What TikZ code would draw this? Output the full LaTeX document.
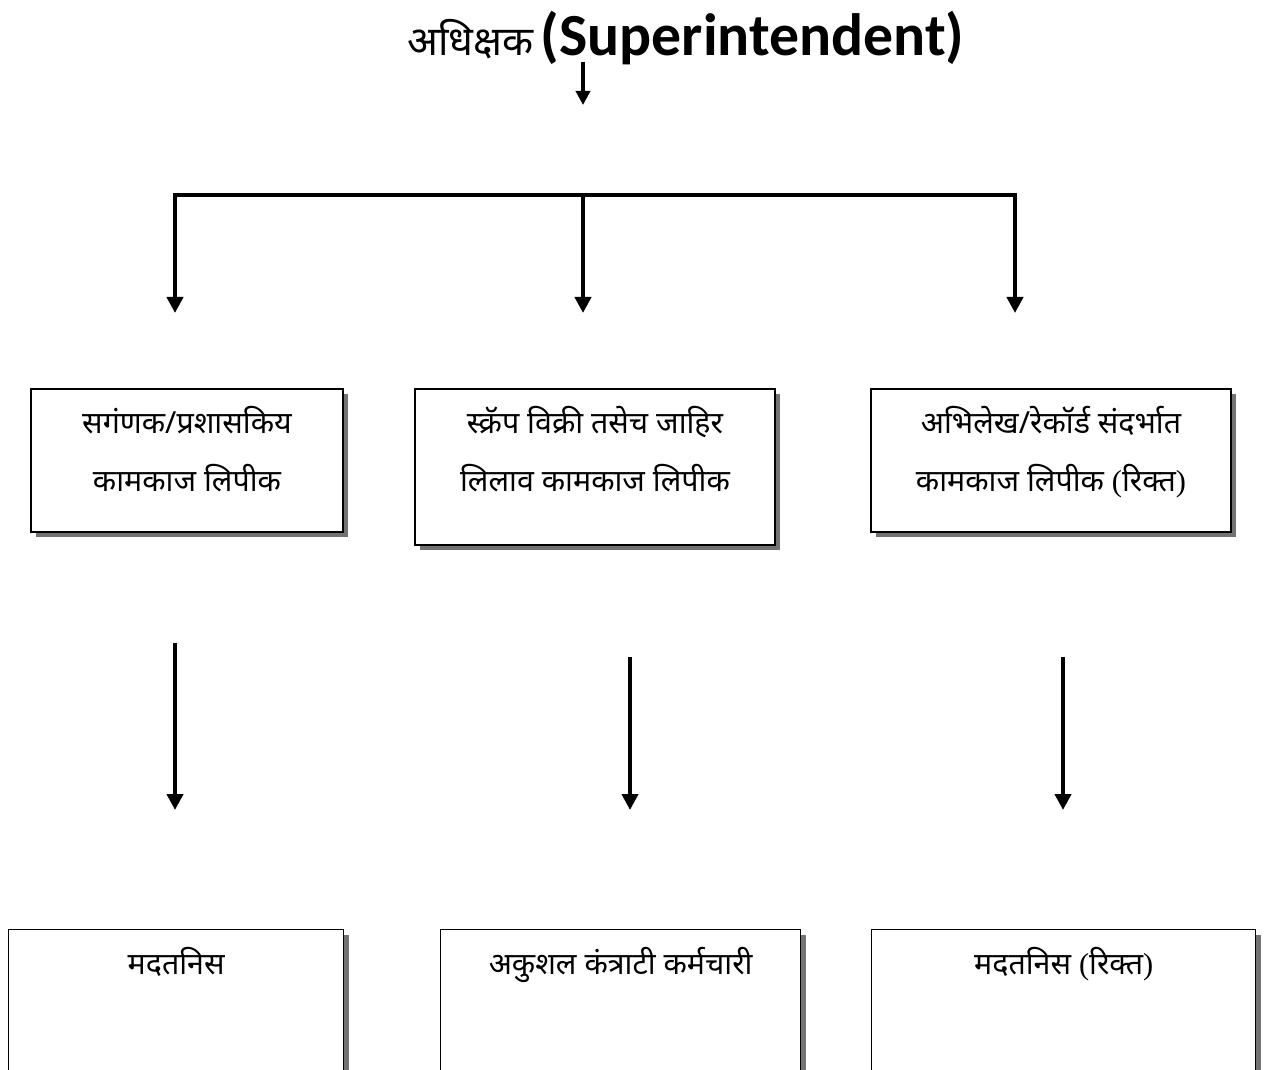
\documentclass[tikz,border=0pt]{standalone}
\usepackage{fontspec}
\setmainfont{Liberation Serif}
\newfontfamily\deva[Script=Devanagari]{Noto Sans}
\newfontfamily\headfont{Carlito}
\usetikzlibrary{arrows.meta,shadows}

\tikzset{
  postbox/.style={draw, line width=0.8pt, fill=white,
    drop shadow={shadow xshift=0.1cm, shadow yshift=-0.1cm, fill=gray!90!black, opacity=1}},
  posttext/.style={align=center, font=\deva\fontsize{17.3}{33}\selectfont},
  feed/.style={line width=2.8pt, -{Triangle[length=0.32cm,width=0.32cm]}},
  bar/.style={line width=2.8pt, line cap=rect}
}

\begin{document}
\begin{tikzpicture}[x=0.02cm, y=-0.02cm]
\useasboundingbox (0,0) rectangle (1273,1070);
\clip (0,0) rectangle (1273,1070);

% head of the office
\node[inner sep=0pt, anchor=base] (head) at (686,56)
  {{\deva\fontsize{23}{28}\selectfont अधिक्षक}\hspace{4pt}{\headfont\bfseries\fontsize{34}{40}\selectfont (Superintendent)}};
\coordinate (headout) at (583,62);
\coordinate (headin) at (583,105);
\draw[line width=2.2pt, -{Triangle[length=0.28cm,width=0.28cm]}] (headout) -- (headin);

% branch bar
\coordinate (barl) at (175,195);
\coordinate (barm) at (583,195);
\coordinate (barr) at (1015,195);
\coordinate (tipl) at (175,313);
\coordinate (tipm) at (583,313);
\coordinate (tipr) at (1015,313);
\draw[bar] (barl) -- (barr);
\draw[feed] (barl) -- (tipl);
\draw[feed] (barm) -- (tipm);
\draw[feed] (barr) -- (tipr);

% clerks
\node[postbox, minimum width=6.24cm, minimum height=2.86cm] (clerkA) at (187,460.5) {};
\node[postbox, minimum width=7.2cm, minimum height=3.12cm] (clerkB) at (595,467) {};
\node[postbox, minimum width=7.2cm, minimum height=2.86cm] (clerkC) at (1051,460.5) {};
\node[posttext, anchor=north] (clerkAtxt) at ([yshift=-0.24cm]clerkA.north) {सगंणक/प्रशासकिय\\कामकाज लिपीक};
\node[posttext, anchor=north] (clerkBtxt) at ([yshift=-0.24cm]clerkB.north) {स्क्रॅप विक्री तसेच जाहिर\\लिलाव कामकाज लिपीक};
\node[posttext, anchor=north] (clerkCtxt) at ([yshift=-0.24cm]clerkC.north) {अभिलेख/रेकॉर्ड संदर्भात\\कामकाज लिपीक {\rmfamily(}रिक्त{\rmfamily)}};

% second level arrows
\coordinate (dropAs) at (175,643);
\coordinate (dropAe) at (175,810);
\coordinate (dropBs) at (630,657);
\coordinate (dropBe) at (630,810);
\coordinate (dropCs) at (1063,657);
\coordinate (dropCe) at (1063,810);
\draw[feed] (dropAs) -- (dropAe);
\draw[feed] (dropBs) -- (dropBe);
\draw[feed] (dropCs) -- (dropCe);

% helpers
\node[postbox, minimum width=6.7cm, minimum height=4cm, anchor=north west] (helpA) at (8,929) {};
\node[postbox, minimum width=7.2cm, minimum height=4cm, anchor=north west] (helpB) at (440,929) {};
\node[postbox, minimum width=7.68cm, minimum height=4cm, anchor=north west] (helpC) at (871,929) {};
\node[posttext, anchor=north] (helpAtxt) at ([yshift=-0.24cm]helpA.north) {मदतनिस};
\node[posttext, anchor=north] (helpBtxt) at ([yshift=-0.24cm]helpB.north) {अकुशल कंत्राटी कर्मचारी};
\node[posttext, anchor=north] (helpCtxt) at ([yshift=-0.24cm]helpC.north) {मदतनिस {\rmfamily(}रिक्त{\rmfamily)}};
\end{tikzpicture}
\end{document}
